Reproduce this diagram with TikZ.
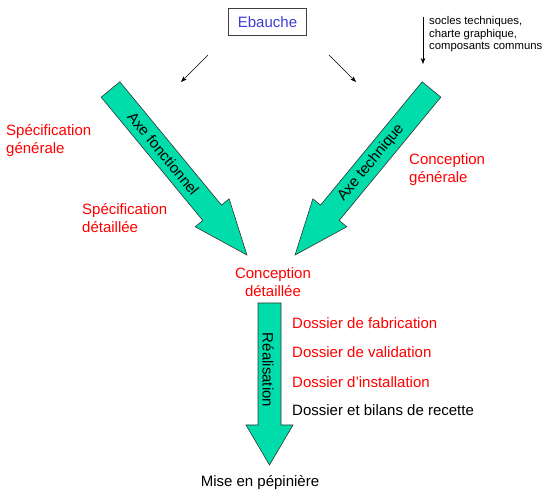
\documentclass[tikz,border=0pt]{standalone}
\usepackage{fontspec}
\setmainfont{Liberation Sans}
\usetikzlibrary{arrows.meta}
\definecolor{vertaxe}{RGB}{0,221,170}
\definecolor{bleuebauche}{RGB}{60,60,215}
\newcommand{\grossefleche}[4]{% longueur, demi-largeur, demi-largeur tete, longueur tete
    \draw[axe](0,-#2)--(#1-#4,-#2)--(#1-#4,-#3)--(#1,0)--(#1-#4,#3)--(#1-#4,#2)--(0,#2)--cycle;
}
\tikzset{
    axe/.style={fill=vertaxe,draw=black!80,line width=0.6pt},
    rouge/.style={text=red,font=\fontsize{15}{17.5}\selectfont,inner sep=0pt},
    noir/.style={text=black,font=\fontsize{15}{17.5}\selectfont,inner sep=0pt},
    petit/.style={font=\fontsize{11.3}{12.5}\selectfont,inner sep=0pt,align=left},
    fin/.style={-{Stealth[length=6pt,width=4.5pt]},line width=0.5pt}
}
\begin{document}
\begin{tikzpicture}[x=1pt,y=-1pt]
        \useasboundingbox(0,0)rectangle(555,497);
        % les deux axes
        \begin{scope}[shift={(110.5,89.5)},rotate=-50.5]
            \grossefleche{214.5}{12.1}{22}{54.7}
            \node[noir,rotate=-50.5](fonct) at (83,0){Axe fonctionnel};
        \end{scope}
        \begin{scope}[shift={(431.5,89.5)},rotate=-129.5]
            \grossefleche{214.5}{12.1}{22}{54.7}
            \node[noir,rotate=50.5](techn) at (95,0){Axe technique};
        \end{scope}
        % realisation
        \begin{scope}[shift={(269.5,303)},rotate=-90]
            \grossefleche{162}{11.5}{23.5}{40}
            \node[noir,rotate=-90](real) at (67,1.5){Réalisation};
        \end{scope}

        \node[draw=black!75,line width=0.8pt,text=bleuebauche,font=\fontsize{15}{17.5}\selectfont,
            minimum width=78pt,minimum height=27pt,inner sep=0pt](ebauche) at (267.5,22){Ebauche};
        \coordinate(g1) at (208,55);
        \coordinate(g2) at (181,82);
        \coordinate(d1) at (329,55);
        \coordinate(d2) at (356,82);
        \coordinate(s1) at (423,17);
        \coordinate(s2) at (423,64);
        \draw[fin](g1)--(g2);
        \draw[fin](d1)--(d2);
        \draw[fin](s1)--(s2);
        \node[petit,anchor=north west](socles) at (429,16.5){socles techniques,\\charte graphique,\\composants communs};

        \node[rouge,align=left,anchor=west](specg) at (6,140.5){Spécification\\générale};
        \node[rouge,align=left,anchor=west](specd) at (82,218){Spécification\\détaillée};
        \node[rouge,align=left,anchor=west](concg) at (409,169.5){Conception\\générale};
        \node[rouge,align=center](concd) at (273,282){Conception\\détaillée};

        \node[rouge,anchor=west](fab) at (292,323){Dossier de fabrication};
        \node[rouge,anchor=west](valid) at (292,352){Dossier de validation};
        \node[rouge,anchor=west](instal) at (292,382){Dossier d’installation};
        \node[noir,anchor=west](recette) at (292,410){Dossier et bilans de recette};
        \node[noir](pepin) at (260,483){Mise en pépinière};
    \end{tikzpicture}
\end{document}
